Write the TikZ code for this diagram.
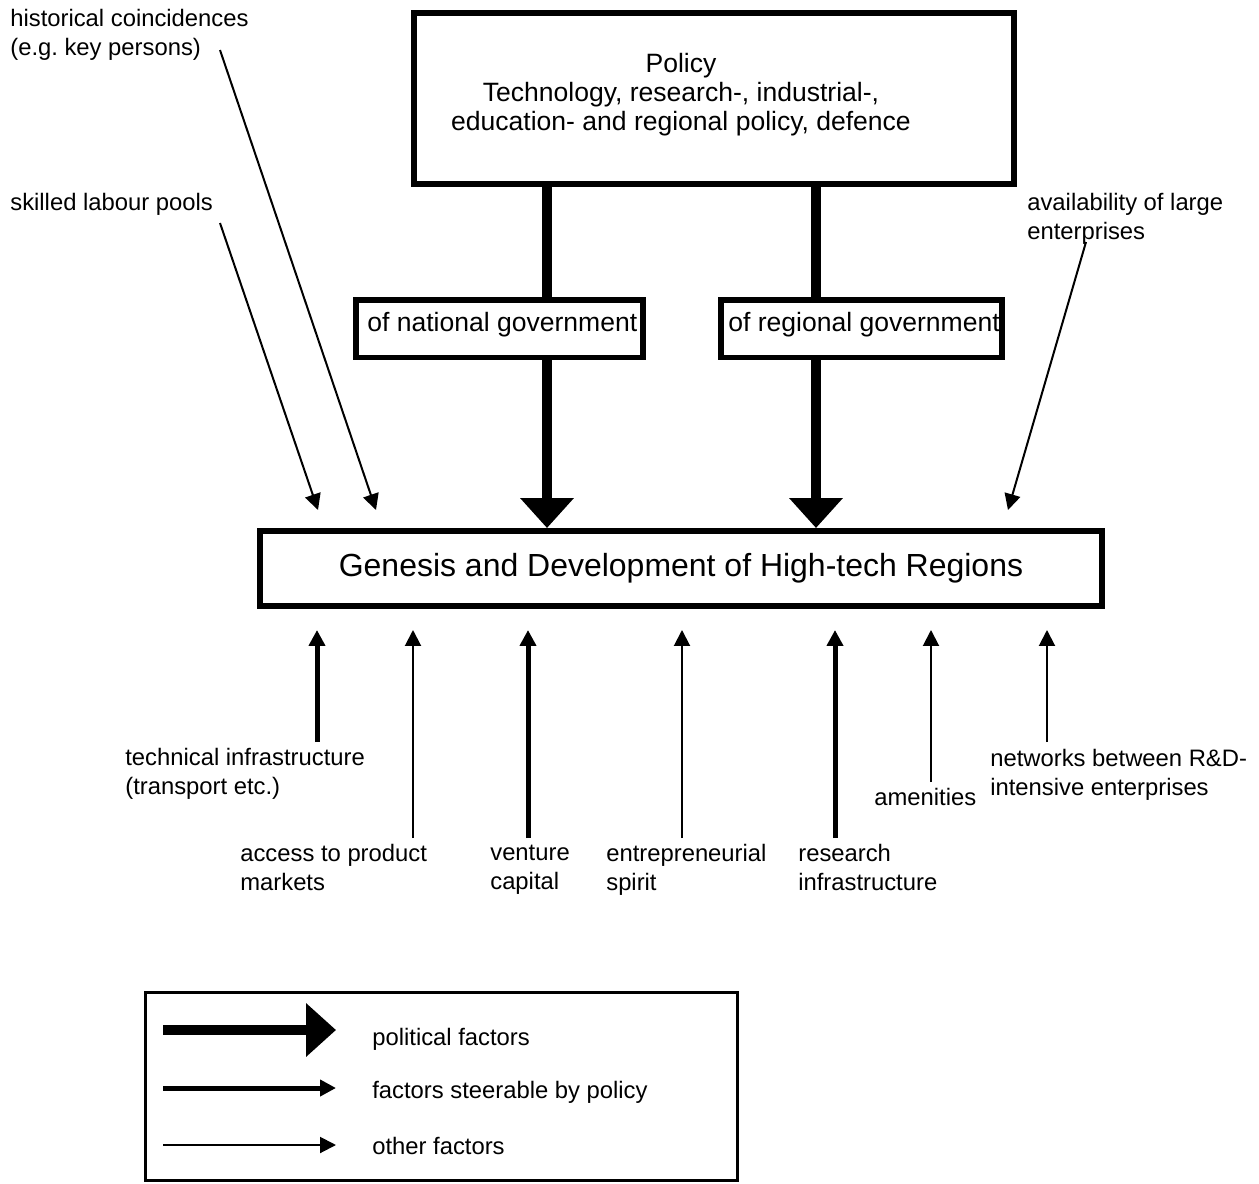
\documentclass[tikz,border=0pt]{standalone}
\usepackage{fontspec}
\setmainfont{Liberation Sans}
\usetikzlibrary{arrows.meta}
\frenchspacing
\begin{document}
\begin{tikzpicture}[x=0.02cm,y=-0.02cm,
  box/.style={draw, line width=0.11cm, inner sep=0pt, rectangle},
  lbl/.style={inner sep=0pt, anchor=north west, align=left,
              font=\fontsize{13.55}{16.2}\selectfont},
  boxtext/.style={inner sep=0pt, font=\fontsize{15.1}{16.5}\selectfont},
  polshaft/.style={line width=0.21cm},
  political/.style={polshaft, -{Triangle[length=0.6cm,width=1.04cm]}},
  steerable/.style={line width=0.1cm, -{Triangle[length=0.32cm,width=0.32cm]}},
  otherf/.style={line width=0.04cm, -{Triangle[length=0.32cm,width=0.32cm]}},
  gap/.style={shorten >=0.42cm},
]
\useasboundingbox (0,0) rectangle (1259,1184);

% policy box and the two levels of government
\node[box, minimum width=12.01cm, minimum height=3.43cm] (policy) at (714,98.5) {};
\node[boxtext, anchor=north, align=center] (policytext) at (681,53)
  {Policy\\Technology, research-, industrial-,\\education- and regional policy, defence};

\node[box, minimum width=5.75cm, minimum height=1.15cm] (nat) at (499.5,328.5) {};
\node[boxtext, anchor=north west] (nattext) at (367,312) {of national government};
\node[box, minimum width=5.63cm, minimum height=1.15cm] (reg) at (861.5,328.5) {};
\node[boxtext, anchor=north west] (regtext) at (728,312) {of regional government};

% central box
\node[draw, line width=0.12cm, inner sep=0pt, minimum width=16.84cm, minimum height=1.5cm,
      font=\fontsize{18.2}{20}\selectfont] (main) at (681,568.5)
  {Genesis and Development of High-tech Regions};

% political arrows
\coordinate (natx) at (547,0);
\coordinate (regx) at (816,0);
\draw[polshaft] (policy.south -| natx) -- (nat.north -| natx);
\draw[political] (nat.south -| natx) -- (main.north -| natx);
\draw[polshaft] (policy.south -| regx) -- (reg.north -| regx);
\draw[political] (reg.south -| regx) -- (main.north -| regx);

% factors from above
\node[lbl] (hist) at (10,9) {historical coincidences\\(e.g. key persons)};
\node[lbl] (skill) at (10,193) {skilled labour pools};
\node[lbl] (avail) at (1027,193) {availability of large\\enterprises};
\coordinate (histS) at (220,50);
\coordinate (histE) at (376,510);
\coordinate (skillS) at (220,223);
\coordinate (skillE) at (318,510);
\coordinate (availS) at (1086,242);
\coordinate (availE) at (1008,510);
\draw[otherf] (histS) -- (histE);
\draw[otherf] (skillS) -- (skillE);
\draw[otherf] (availS) -- (availE);

% factors from below
\node[lbl] (tech) at (125,748) {technical infrastructure\\(transport etc.)};
\node[lbl] (access) at (240,844) {access to product\\markets};
\node[lbl] (venture) at (490,845) {venture\\capital};
\node[lbl] (entre) at (606,844) {entrepreneurial\\spirit};
\node[lbl] (research) at (798,844) {research\\infrastructure};
\node[lbl] (amen) at (874,788) {amenities};
\node[lbl] (netw) at (990,749) {networks between R\&D-\\intensive enterprises};

\coordinate (techS) at (317,742);
\coordinate (accessS) at (413,838);
\coordinate (ventureS) at (528,838);
\coordinate (entreS) at (682,838);
\coordinate (researchS) at (835,838);
\coordinate (amenS) at (931,782);
\coordinate (netwS) at (1047,742);
\draw[steerable, gap] (techS) -- (main.south -| techS);
\draw[otherf, gap] (accessS) -- (main.south -| accessS);
\draw[steerable, gap] (ventureS) -- (main.south -| ventureS);
\draw[otherf, gap] (entreS) -- (main.south -| entreS);
\draw[steerable, gap] (researchS) -- (main.south -| researchS);
\draw[otherf, gap] (amenS) -- (main.south -| amenS);
\draw[otherf, gap] (netwS) -- (main.south -| netwS);

% legend
\node[draw, line width=0.06cm, inner sep=0pt, minimum width=11.84cm, minimum height=3.76cm]
  (legend) at (441.5,1086.5) {};
\node[lbl] (lgpol) at (372,1028) {political factors};
\node[lbl] (lgsteer) at (372,1081) {factors steerable by policy};
\node[lbl] (lgother) at (372,1137) {other factors};
\coordinate (lg1s) at (163,1030);
\coordinate (lg1e) at (336,1030);
\coordinate (lg2s) at (163,1088);
\coordinate (lg2e) at (336,1088);
\coordinate (lg3s) at (163,1145);
\coordinate (lg3e) at (336,1145);
\draw[political] (lg1s) -- (lg1e);
\draw[steerable] (lg2s) -- (lg2e);
\draw[otherf] (lg3s) -- (lg3e);
\end{tikzpicture}
\end{document}
